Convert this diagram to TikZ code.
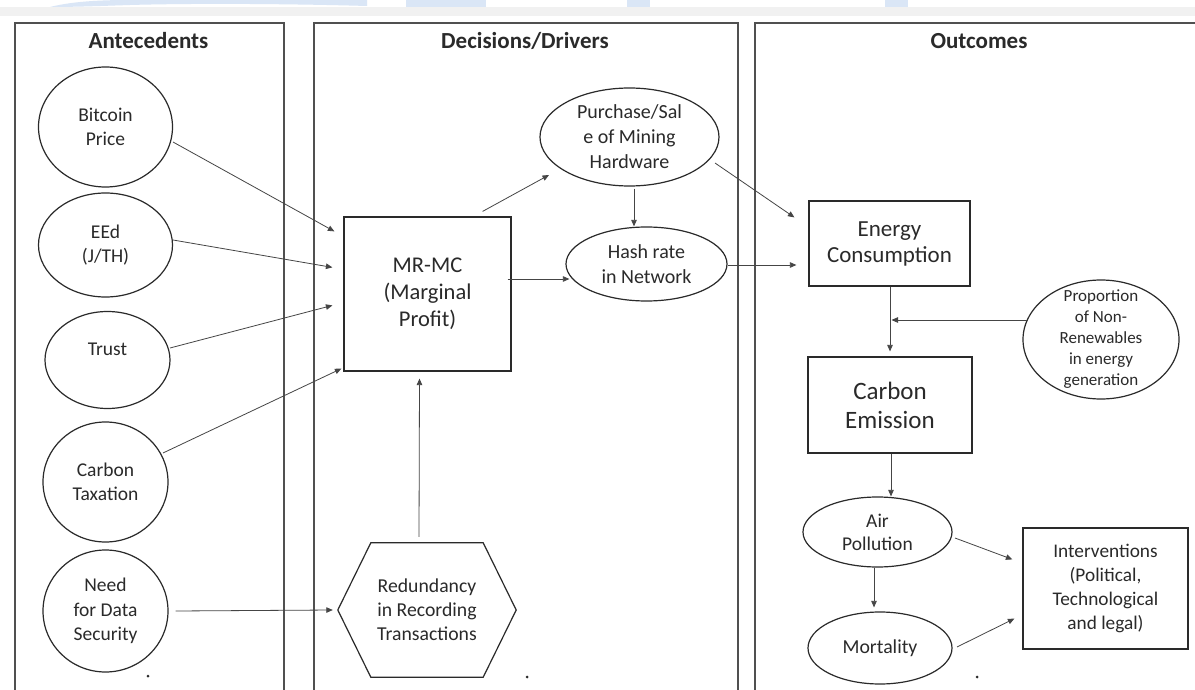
\documentclass[tikz,border=0pt]{standalone}
\usepackage{fontspec}
\setmainfont{Carlito}
\usetikzlibrary{arrows.meta,calc,shapes.geometric}
\definecolor{ink}{HTML}{2A2A2A}
\definecolor{frame}{HTML}{505050}
\definecolor{lineg}{HTML}{454545}
\definecolor{wm}{HTML}{DAE6F6}
\definecolor{band}{HTML}{F1F1F1}
\begin{document}
\begin{tikzpicture}[x=1pt,y=-1pt,
  panel/.style={draw=frame,line width=1.6pt,inner sep=0pt},
  title/.style={font=\bfseries\fontsize{23}{27}\selectfont,text=ink},
  shp/.style={draw=ink,line width=1.2pt,inner sep=0pt},
  ell/.style={shp,ellipse},
  txt/.style={text=ink,align=center,font=\fontsize{19.5}{24.5}\selectfont,inner sep=0pt},
  box/.style={shp,align=center,text=ink},
  conn/.style={draw=lineg,line width=0.8pt,-{Triangle[length=6.5pt,width=5.5pt]}},
  dot/.style={circle,fill=ink,inner sep=0pt,minimum size=3pt},
]
\useasboundingbox (0,0) rectangle (1195,690);
\clip (0,0) rectangle (1195,690);
\fill[white] (0,0) rectangle (1195,690);
% top band and faint watermark
\fill[band] (0,7) rectangle (1195,16);
\fill[wm] (50,7) .. controls (70,2) and (95,0) .. (130,0) -- (367,0) -- (367,6) .. controls (300,4) and (200,3) .. (130,5) .. controls (100,6) and (75,7) .. cycle;
\fill[wm] (406,0) rectangle (486,7);
\fill[wm] (627,0) rectangle (650,7);
\fill[wm] (885,0) rectangle (908,7);

% panels
\node[panel,anchor=north west,minimum width=269,minimum height=700] (pA) at (14,22) {};
\node[panel,anchor=north west,minimum width=424,minimum height=700] (pB) at (313,22) {};
\node[panel,anchor=north west,minimum width=460,minimum height=700] (pC) at (754,22) {};
\node[title,anchor=base] (tA) at (148.5,49) {Antecedents};
\node[title,anchor=base] (tB) at (525,49) {Decisions/Drivers};
\node[title,anchor=base] (tC) at (979,49) {Outcomes};

% antecedents
\node[ell,minimum width=134,minimum height=120,label={[txt]center:{Bitcoin\\Price}}] (bp) at (105.5,127) {};
\node[ell,minimum width=134,minimum height=104,label={[txt]center:{EEd\\(J/TH)}}] (eed) at (105.5,245) {};
\node[ell,minimum width=125,minimum height=97,label={[txt,yshift=11pt]center:{Trust}}] (trust) at (107.5,360) {};
\node[ell,minimum width=125,minimum height=120,label={[txt]center:{Carbon\\Taxation}}] (ctax) at (105.5,482) {};
\node[ell,minimum width=125,minimum height=122,label={[txt]center:{Need\\for Data\\Security}}] (need) at (105.5,611) {};

% decisions / drivers
\node[box,minimum width=167,minimum height=154,font=\fontsize{22.5}{27}\selectfont] (mrmc) at (427.5,294) {MR-MC\\(Marginal\\Profit)};
\node[ell,minimum width=179,minimum height=98,label={[txt,font=\fontsize{20}{25}\selectfont]center:{Purchase/Sal\\e of Mining\\Hardware}}] (purch) at (629.5,137) {};
\node[ell,minimum width=161,minimum height=74,label={[txt,font=\fontsize{20}{25}\selectfont]center:{Hash rate\\in Network}}] (hash) at (646.5,264) {};
\node[txt,minimum width=178,minimum height=134,font=\fontsize{19.7}{24}\selectfont] (hex) at (427,610) {Redundancy\\in Recording\\Transactions};
\draw[draw=ink,line width=1.2pt] (hex.west) -- ([xshift=33pt]hex.north west) -- ([xshift=-33pt]hex.north east) -- (hex.east) -- ([xshift=-33pt]hex.south east) -- ([xshift=33pt]hex.south west) -- cycle;

% outcomes
\node[box,minimum width=161,minimum height=85,font=\fontsize{23}{26}\selectfont] (energy) at (889.5,243.5) {Energy\\Consumption};
\node[box,minimum width=164,minimum height=96,font=\fontsize{25}{29}\selectfont] (carbon) at (890,405) {Carbon\\Emission};
\node[ell,minimum width=156,minimum height=119,label={[txt,font=\fontsize{17}{21}\selectfont]center:{Proportion\\of Non-\\Renewables\\in energy\\generation}}] (prop) at (1101,339.5) {};
\node[ell,minimum width=149,minimum height=70,label={[txt,font=\fontsize{19.5}{23}\selectfont]center:{Air\\Pollution}}] (air) at (877.5,532) {};
\node[ell,minimum width=144,minimum height=72,label={[txt,font=\fontsize{19.8}{24}\selectfont]center:{Mortality}}] (mort) at (880,648) {};
\node[box,minimum width=165,minimum height=121,font=\fontsize{19.3}{24}\selectfont] (interv) at (1105.5,588.5) {Interventions\\(Political,\\Technological\\and legal)};

% dots
\node[dot] (d1) at (148,676) {};
\node[dot] (d2) at (527,677) {};
\node[dot] (d3) at (977,677) {};

% connectors
\draw[conn] ($(bp.center)+(67.5,15)$) -- ($(mrmc.north west)+(-9,15)$);
\draw[conn] ($(eed.center)+(67.5,-5)$) -- ($(mrmc.north west)+(-11,51)$);
\draw[conn] ($(trust.center)+(62.5,-12)$) -- ($(mrmc.north west)+(-11,89)$);
\draw[conn] ($(ctax.center)+(57.5,-29)$) -- ($(mrmc.south west)+(-2,-3)$);
\draw[conn] ($(need.east)+(7,0)$) -- ($(hex.west)+(-5,0)$);
\draw[conn] ($(hex.north)+(-8,-6)$) -- ($(mrmc.south)+(-8,7)$);
\draw[conn] ($(mrmc.north east)+(-29,-5)$) -- ($(purch.center)+(-80.5,38)$);
\draw[conn] ($(mrmc.east)+(-4,-15)$) -- ($(hash.west)+(4,15)$);
\draw[conn] ($(purch.south)+(4.5,2)$) -- ($(hash.north)+(-12.5,0)$);
\draw[conn] ($(purch.center)+(85.5,26)$) -- ($(energy.north west)+(-14,17)$);
\draw[conn] ($(hash.east)+(0,1)$) -- ($(energy.west)+(-12,21.5)$);
\draw[conn] ($(energy.south)+(0.5,0)$) -- ($(carbon.north)+(0,-5)$);
\coordinate (pl) at ($(prop.center)+(-74,-19.5)$);
\coordinate (ec) at (energy.south |- pl);
\draw[conn] (pl) -- ([xshift=2pt]ec);
\draw[conn] ($(carbon.south)+(1,0)$) -- ($(air.north)+(13.5,0)$);
\draw[conn] ($(air.south)+(-3.5,0)$) -- ($(mort.north)+(-6,-4)$);
\draw[conn] ($(air.center)+(77.5,6)$) -- ($(interv.north west)+(-10,32)$);
\draw[conn] ($(mort.center)+(77,-1)$) -- ($(interv.south west)+(-8,-31)$);
\end{tikzpicture}
\end{document}
